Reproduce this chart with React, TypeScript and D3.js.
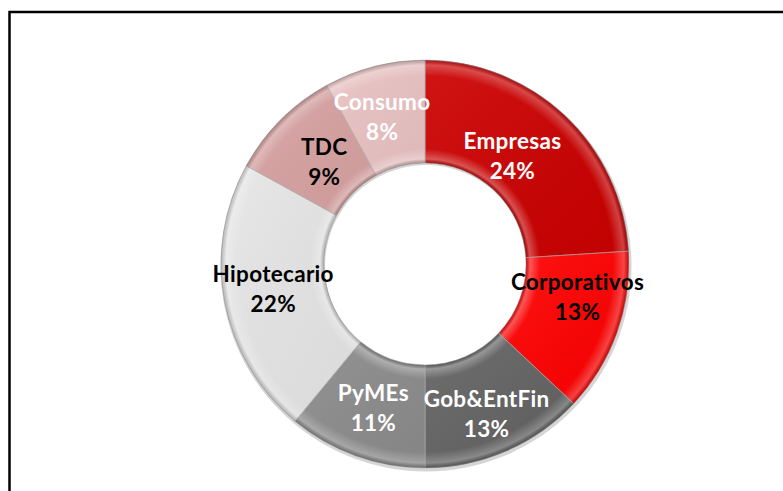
import React from "react";
import * as d3 from "d3";

const categories = ["Empresas", "Corporativos", "Gob&EntFin", "PyMEs", "Hipotecario", "TDC", "Consumo"];
const values = [24, 13, 13, 11, 22, 9, 8];
const colors = ["#CC0000", "#FF0000", "#636363", "#8C8C8C", "#E6E6E6", "#D8A2A2", "#EBC3C3"];
const textColors = ["#FFFFFF", "#000000", "#FFFFFF", "#FFFFFF", "#000000", "#000000", "#FFFFFF"];
// label nudges relative to the arc centroid (Excel-like placement)
const labelDx = [-17, 9, 1, 0, -2, 7, -5];
const labelDy = [2, -20, 9, 0, -5, 5, 0];

const W = 783;
const H = 491;
const cx = 425;
const cy = 264;
const outerR = 204;
const innerR = 101;

export default function App() {
  const pie = d3.pie<number>().sort(null).value((d) => d)(values);
  const arc = d3.arc<d3.PieArcDatum<number>>().innerRadius(innerR).outerRadius(outerR);
  const labelArc = d3.arc<d3.PieArcDatum<number>>().innerRadius((innerR + outerR) / 2).outerRadius((innerR + outerR) / 2);
  const ring = d3.arc()({ innerRadius: innerR, outerRadius: outerR + 1.5, startAngle: 0, endAngle: 2 * Math.PI } as any) || "";
  const total = d3.sum(values);
  const fmt = (v: number) => `${Math.round((v / total) * 100)}%`;
  const font = "Lato, 'Open Sans', sans-serif";

  return (
    <svg width={W} height={H} style={{ position: "absolute", left: 0, top: 0, background: "#fff" }}>
      <defs>
        <radialGradient id="bevel" gradientUnits="userSpaceOnUse" cx={0} cy={0} r={outerR}>
          <stop offset={innerR / outerR} stopColor="#000" stopOpacity={0.2} />
          <stop offset={(innerR + 4) / outerR} stopColor="#fff" stopOpacity={0.3} />
          <stop offset={(innerR + 14) / outerR} stopColor="#fff" stopOpacity={0} />
          <stop offset={(outerR - 16) / outerR} stopColor="#fff" stopOpacity={0} />
          <stop offset={(outerR - 5) / outerR} stopColor="#fff" stopOpacity={0.25} />
          <stop offset={1} stopColor="#000" stopOpacity={0.2} />
        </radialGradient>
        <linearGradient id="tint" x1="0" y1="0" x2="1" y2="1">
          <stop offset="0" stopColor="#fff" stopOpacity={0.08} />
          <stop offset="1" stopColor="#000" stopOpacity={0.05} />
        </linearGradient>
      </defs>
      <rect x={9.5} y={12} width={900} height={600} fill="none" stroke="#000" strokeWidth={2.5} />
      <g transform={`translate(${cx},${cy})`}>
        <path d={ring} fill="#888" opacity={0.35} transform="translate(1,2)" />
        {pie.map((p, i) => (
          <g key={categories[i]}>
            <path d={arc(p) || ""} fill={colors[i]} stroke="#fff" strokeWidth={0.5} />
            <path d={arc(p) || ""} fill="url(#tint)" />
            <path d={arc(p) || ""} fill="url(#bevel)" stroke="#000" strokeOpacity={0.2} strokeWidth={1} />
          </g>
        ))}
        {pie.map((p, i) => {
          const [x, y] = labelArc.centroid(p);
          const lx = x + labelDx[i];
          const ly = y + labelDy[i];
          return (
            <text
              key={"l" + categories[i]}
              x={lx}
              y={ly}
              textAnchor="middle"
              fontFamily={font}
              fontWeight="bold"
              fontSize={22.5}
              letterSpacing={0.3}
              fill={textColors[i]}
            >
              <tspan x={lx} y={ly - 6}>{categories[i]}</tspan>
              <tspan x={lx} y={ly + 24}>{fmt(values[i])}</tspan>
            </text>
          );
        })}
      </g>
    </svg>
  );
}
